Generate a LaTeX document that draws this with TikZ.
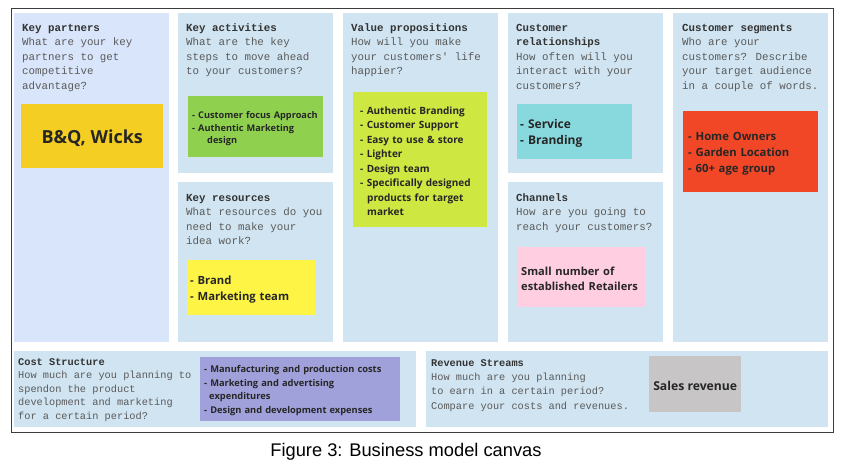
\documentclass[tikz,border=0pt]{standalone}
\usepackage{fontspec}
\setmainfont{Liberation Sans}
\newfontfamily\monof{Liberation Mono}
\newfontfamily\notef{Open Sans}
\definecolor{panelc}{HTML}{D0E4F1}
\definecolor{panelkp}{HTML}{D9E5FA}
\definecolor{hdrc}{HTML}{333333}
\definecolor{bodyc}{HTML}{5A5A5A}
\definecolor{notetext}{HTML}{262626}
\definecolor{cyel}{HTML}{F5CE23}
\definecolor{cgreen}{HTML}{8FD14F}
\definecolor{clime}{HTML}{CEE741}
\definecolor{ccyan}{HTML}{88D9DD}
\definecolor{cred}{HTML}{F24726}
\definecolor{cyel2}{HTML}{FEF445}
\definecolor{cpink}{HTML}{FFCEE0}
\definecolor{cpurple}{HTML}{A0A0DA}
\definecolor{cgray}{HTML}{C7C5C5}
\definecolor{framec}{HTML}{3C3C3C}
\tikzset{
  panel/.style={fill=panelc, draw=none, inner sep=0pt, anchor=north west},
  qtext/.style={anchor=base west, inner sep=0pt, align=left, text=bodyc,
    font=\monof\fontsize{10.8}{14.5}\selectfont},
  note/.style={draw=none, inner sep=0pt, anchor=north west},
  notetxt/.style={inner sep=0pt, anchor=center, align=left, text=notetext},
}
\newcommand{\hdr}[1]{{\color{hdrc}\bfseries #1}}
\begin{document}
\begin{tikzpicture}[x=1pt,y=-1pt]
\useasboundingbox (0,0) rectangle (862,466);
\fill[white] (0,0) rectangle (862,466);
% frame
\node[draw=framec, line width=1.4pt, inner sep=0pt, anchor=north west,
  minimum width=822pt, minimum height=424pt] (frame) at (11,8) {};
% panels
\node[panel, fill=panelkp, minimum width=155pt, minimum height=329pt] (kp) at (14,13) {};
\node[panel, minimum width=155pt, minimum height=160pt] (ka) at (178,13) {};
\node[panel, minimum width=155pt, minimum height=160pt] (kr) at (178,182) {};
\node[panel, minimum width=155pt, minimum height=329pt] (vp) at (343,13) {};
\node[panel, minimum width=155pt, minimum height=160pt] (cr) at (508,13) {};
\node[panel, minimum width=155pt, minimum height=160pt] (ch) at (508,182) {};
\node[panel, minimum width=155pt, minimum height=329pt] (cs) at (673,13) {};
\node[panel, minimum width=402pt, minimum height=76pt] (cost) at (14,351) {};
\node[panel, minimum width=402pt, minimum height=76pt] (rev) at (426,351) {};
% question texts (anchored at the baseline of their last line)
\node[qtext] (kpq) at (22,89) {\hdr{Key partners}\\What are your key\\partners to get\\competitive\\advantage?};
\node[qtext] (kaq) at (186,74.5) {\hdr{Key activities}\\What are the key\\steps to move ahead\\to your customers?};
\node[qtext] (vpq) at (351,74.5) {\hdr{Value propositions}\\How will you make\\your customers' life\\happier?};
\node[qtext] (crq) at (516,89) {\hdr{Customer}\\\hdr{relationships}\\How often will you\\interact with your\\customers?};
\node[qtext] (csq) at (682,89) {\hdr{Customer segments}\\Who are your\\customers? Describe\\your target audience\\in a couple of words.};
\node[qtext] (krq) at (186,244.5) {\hdr{Key resources}\\What resources do you\\need to make your\\idea work?};
\node[qtext] (chq) at (516,230) {\hdr{Channels}\\How are you going to\\reach your customers?};
\node[qtext, font=\monof\fontsize{10.3}{13.5}\selectfont] (costq) at (18,419) {\hdr{Cost Structure}\\How much are you planning to\\spendon the product\\development and marketing\\for a certain period?};
\node[qtext, font=\monof\fontsize{10.3}{14.3}\selectfont] (revq) at (431,409) {\hdr{Revenue Streams}\\How much are you planning\\to earn in a certain period?\\Compare your costs and revenues.};
% sticky notes
\node[note, fill=cyel, minimum width=142pt, minimum height=64pt] (n1) at (21,104) {};
\node[notetxt, align=center, font=\notef\bfseries\fontsize{18}{22}\selectfont] (t1)
  at ([yshift=-1.5pt]n1.center) {B\&Q, Wicks};
\node[note, fill=cgreen, minimum width=135pt, minimum height=61pt] (n2) at (188,96) {};
\node[notetxt, text width=127pt, font=\notef\bfseries\fontsize{9.2}{12.5}\selectfont] (t2)
  at ([yshift=-2pt]n2.center) {- Customer focus Approach\\- Authentic Marketing\\\hspace*{15pt}design};
\node[note, fill=clime, minimum width=134pt, minimum height=135pt] (n3) at (353,92) {};
\node[notetxt, text width=120pt, font=\notef\bfseries\fontsize{10}{14.5}\selectfont] (t3)
  at ([yshift=-1.5pt]n3.center) {- Authentic Branding\\- Customer Support\\- Easy to use \& store\\- Lighter\\- Design team\\- Specifically designed\\\hspace*{7pt}products for target\\\hspace*{7pt}market};
\node[note, fill=ccyan, minimum width=115pt, minimum height=55pt] (n4) at (517,104) {};
\node[notetxt, text width=109pt, font=\notef\bfseries\fontsize{12}{16}\selectfont] (t4)
  at ([yshift=-2pt]n4.center) {- Service\\- Branding};
\node[note, fill=cred, minimum width=135pt, minimum height=81pt] (n5) at (683,111) {};
\node[notetxt, text width=125pt, font=\notef\bfseries\fontsize{11.3}{16}\selectfont] (t5)
  at ([yshift=-2.5pt]n5.center) {- Home Owners\\- Garden Location\\- 60+ age group};
\node[note, fill=cyel2, minimum width=128pt, minimum height=55pt] (n6) at (187,260) {};
\node[notetxt, text width=122pt, font=\notef\bfseries\fontsize{11.3}{16.5}\selectfont] (t6)
  at ([yshift=-2pt]n6.center) {- Brand\\- Marketing team};
\node[note, fill=cpink, minimum width=128pt, minimum height=60pt] (n7) at (517,247) {};
\node[notetxt, text width=120pt, font=\notef\bfseries\fontsize{11.1}{14.5}\selectfont] (t7)
  at ([yshift=-1.5pt]n7.center) {Small number of\\established Retailers};
\node[note, fill=cpurple, minimum width=200pt, minimum height=64pt] (n8) at (200,357) {};
\node[notetxt, text width=192pt, font=\notef\bfseries\fontsize{9.3}{13.5}\selectfont] (t8)
  at ([yshift=-1.5pt]n8.center) {- Manufacturing and production costs\\- Marketing and advertising\\\hspace*{5pt}expenditures\\- Design and development expenses};
\node[note, fill=cgray, minimum width=92pt, minimum height=56pt] (n9) at (649,356) {};
\node[notetxt, align=center, font=\notef\bfseries\fontsize{12.2}{14}\selectfont] (t9)
  at ([yshift=-1.5pt]n9.center) {Sales revenue};
% caption
\node[anchor=base, inner sep=0pt, font=\fontsize{18.3}{22}\selectfont] (cap) at (406,456) {Figure 3: Business model canvas};
\end{tikzpicture}
\end{document}
